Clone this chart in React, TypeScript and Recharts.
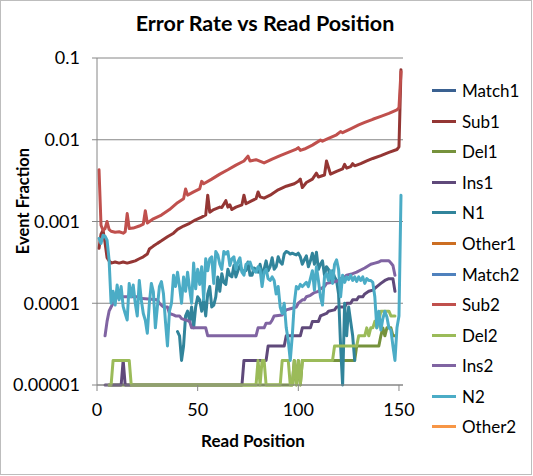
import React from 'react';
import { LineChart, Line, XAxis, YAxis, CartesianGrid } from 'recharts';

// Read positions shown on the x axis
const X_TICKS = [0, 50, 100, 150];
// Log-scale y ticks and how they are printed
const Y_TICKS = [0.00001, 0.0001, 0.001, 0.01, 0.1];
const Y_TICK_LABELS = ['0.00001', '0.0001', '0.001', '0.01', '0.1'];

// [read position, event fraction]
const SUB1: [number, number][] = [
  [1, 0.00047], [2, 0.0007], [3, 0.00078], [4, 0.00055], [5, 0.00036], [6, 0.00033], [7, 0.00031],
  [9, 0.00032], [11, 0.00031], [13, 0.00032], [15, 0.00031], [17, 0.00032], [19, 0.00033], [21, 0.00035],
  [23, 0.00037], [25, 0.0004], [26, 0.00046], [28, 0.0005], [30, 0.00054], [32, 0.00058], [35, 0.00065],
  [38, 0.00072], [40, 0.0008], [43, 0.00088], [46, 0.00095], [49, 0.00105], [52, 0.00113], [54, 0.0012],
  [55, 0.0021], [56, 0.0013], [58, 0.0014], [61, 0.0015], [62, 0.00148], [64, 0.0018], [65, 0.0015],
  [66, 0.0016], [67, 0.0014], [69, 0.0015], [72, 0.0016], [73, 0.0021], [74, 0.00165], [77, 0.0018],
  [79, 0.0019], [80, 0.0023], [81, 0.002], [83, 0.00193], [86, 0.0021], [90, 0.00244], [94, 0.0027],
  [98, 0.0029], [100, 0.0031], [101, 0.0033], [102, 0.0026], [104, 0.003], [107, 0.0033], [109, 0.0039],
  [110, 0.0035], [113, 0.0037], [114, 0.0055], [116, 0.0038], [119, 0.0041], [122, 0.0044], [123, 0.005],
  [124, 0.0045], [126, 0.0047], [127, 0.0051], [128, 0.0048], [131, 0.0051], [134, 0.0055], [137, 0.0059],
  [141, 0.0064], [145, 0.007], [149, 0.0076], [150, 0.0082], [151, 0.072],
];

const SUB2: [number, number][] = [
  [1, 0.0043], [2, 0.0009], [3, 0.00078], [4, 0.00082], [5, 0.001], [6, 0.0008], [7, 0.00076],
  [9, 0.00074], [11, 0.00075], [13, 0.00072], [14, 0.00075], [15, 0.00125], [16, 0.00082], [18, 0.00083],
  [21, 0.00088], [23, 0.00093], [24, 0.00135], [25, 0.00096], [28, 0.00108], [32, 0.0012], [36, 0.0014],
  [40, 0.0017], [43, 0.0019], [44, 0.0025], [45, 0.0021], [48, 0.0023], [51, 0.0025], [52, 0.0031],
  [53, 0.0029], [57, 0.0033], [61, 0.0038], [65, 0.0043], [69, 0.0049], [73, 0.0055], [75, 0.0063],
  [76, 0.0055], [79, 0.0057], [83, 0.0052], [87, 0.0058], [91, 0.0064], [95, 0.007], [99, 0.0077],
  [100, 0.008], [101, 0.0074], [103, 0.0077], [107, 0.0086], [111, 0.0099], [112, 0.0096], [115, 0.0104],
  [119, 0.0115], [121, 0.0126], [122, 0.0122], [126, 0.0136], [130, 0.0152], [133, 0.0163], [137, 0.0178],
  [141, 0.0193], [145, 0.021], [149, 0.0232], [150, 0.0245], [151, 0.068],
];

const DEL1: [number, number][] = [
  [6, 0.00001], [97, 0.00001], [98, 0.00002], [99, 0.00001], [100, 0.00002], [101, 0.00001],
  [102, 0.00002], [128, 0.00002], [129, 0.00003], [140, 0.00003], [141, 0.00004], [142, 0.00005],
  [143, 0.00004], [144, 0.00005], [146, 0.00005], [147, 0.00004], [148, 0.00004],
];

const DEL2: [number, number][] = [
  [6, 0.00001], [7, 0.00001], [8, 0.00002], [16, 0.00002], [17, 0.00001], [79, 0.00001], [80, 0.00002],
  [81, 0.00001], [82, 0.00002], [83, 0.00002], [84, 0.00001], [91, 0.00001], [92, 0.00002], [95, 0.00002],
  [96, 0.00001], [97, 0.00001], [98, 0.00002], [99, 0.00001], [100, 0.00002], [101, 0.00001],
  [102, 0.00002], [117, 0.00002], [118, 0.00003], [129, 0.00003], [130, 0.00004], [133, 0.00004],
  [134, 0.00005], [135, 0.00004], [136, 0.00005], [137, 0.00005], [138, 0.00006], [139, 0.00005],
  [140, 0.00006], [141, 0.00008], [145, 0.00008], [146, 0.00007], [148, 0.00007],
];

const INS1: [number, number][] = [
  [4, 0.00001], [12, 0.00001], [13, 0.00002], [14, 0.00001], [72, 0.00001], [73, 0.00002], [84, 0.00002],
  [85, 0.00003], [93, 0.00003], [94, 0.00004], [101, 0.00004], [102, 0.00005], [106, 0.00005],
  [107, 0.00006], [110, 0.00006], [111, 0.00007], [114, 0.000075], [115, 0.00008], [118, 0.000083],
  [119, 0.00009], [123, 0.00009], [124, 0.0001], [126, 0.0001], [127, 0.00011], [129, 0.00011],
  [130, 0.00012], [132, 0.00012], [133, 0.00013], [135, 0.00014], [137, 0.000145], [139, 0.00016],
  [141, 0.000175], [143, 0.00019], [145, 0.0002], [147, 0.0002], [148, 0.00014],
];

const INS2: [number, number][] = [
  [4, 0.00004], [5, 0.00006], [6, 0.00008], [7, 0.00009], [8, 0.0001], [9, 0.00011], [10, 0.00012],
  [20, 0.00012], [21, 0.000115], [30, 0.00011], [31, 0.0001], [32, 0.000095], [33, 0.00009], [35, 0.00009],
  [36, 0.000075], [38, 0.000072], [39, 0.00007], [41, 0.00007], [42, 0.000065], [46, 0.00006],
  [47, 0.00005], [54, 0.00005], [55, 0.00004], [79, 0.00004], [80, 0.00005], [83, 0.00005],
  [84, 0.000057], [86, 0.000057], [87, 0.000062], [88, 0.00007], [92, 0.000072], [93, 0.000078],
  [94, 0.000083], [97, 0.000087], [99, 0.00009], [100, 0.0001], [102, 0.00011], [103, 0.00011],
  [104, 0.00012], [106, 0.000125], [108, 0.000135], [110, 0.00014], [111, 0.00015], [113, 0.00016],
  [114, 0.000175], [117, 0.00018], [118, 0.000183], [120, 0.00019], [121, 0.0002], [123, 0.00021],
  [124, 0.00022], [127, 0.00023], [129, 0.00024], [131, 0.000255], [133, 0.00027], [134, 0.00028],
  [136, 0.0003], [138, 0.00031], [140, 0.00032], [141, 0.00033], [145, 0.00033], [146, 0.00031],
  [147, 0.00029], [148, 0.00022],
];

// N1 is reported from read position 40 to 128
const N1_START = 40;
const N1_VALUES = [
  0.000045, 0.00004, 0.00002, 0.00003, 0.00007, 0.00008, 0.00006, 0.00009, 0.00005, 0.00009,
  0.00012, 0.00011, 0.00008, 0.00011, 0.00007, 0.00013, 0.00016, 0.00009, 0.000095, 0.00012,
  0.00021, 0.00014, 0.00023, 0.00018, 0.00017, 0.00026, 0.00022, 0.00021, 0.00029, 0.00021,
  0.00025, 0.00029, 0.00025, 0.00025, 0.00025, 0.00032, 0.00022, 0.00022, 0.00027, 0.00026,
  0.00024, 0.0003, 0.00023, 0.00026, 0.00033, 0.00025, 0.00028, 0.00036, 0.00026, 0.00028,
  0.00037, 0.00032, 0.0003, 0.0004, 0.00043, 0.00042, 0.0004, 0.00041, 0.0004, 0.00039,
  0.00041, 0.00037, 0.0003, 0.00034, 0.00038, 0.00028, 0.00033, 0.00041, 0.0003, 0.00042,
  0.00026, 0.0003, 0.00033, 0.00022, 0.00028, 0.00026, 0.00019, 0.00025, 0.00021, 0.00019,
  0.00013, 0.00003, 0.00001, 0.0001, 0.00004, 0.00009, 0.00006, 0.00004, 0.00002,
];

// N2 covers every read position from 1 to 151
const N2_START = 1;
const N2_VALUES = [
  0.00062, 0.00054, 0.00068, 0.00066, 0.00059, 0.00034, 0.0001, 0.00014, 0.000095, 0.000167,
  0.00011, 0.00016, 0.000091, 0.000075, 0.0000624, 0.000175, 0.00012, 0.000167, 0.0001, 0.00007,
  0.00019, 0.00011, 0.000075, 0.000062, 0.000043, 0.0001, 0.000175, 0.000138, 0.00005, 0.000091,
  0.00016, 0.000184, 0.000132, 0.00006, 0.00003, 0.00008, 0.0001, 0.00022, 0.00016, 0.00024,
  0.00016, 0.0001, 0.00021, 0.00014, 0.00024, 0.00015, 0.0001, 0.00031, 0.00015, 0.00026,
  0.00017, 0.00028, 0.00011, 0.00035, 0.00025, 0.00035, 0.00037, 0.000175, 0.00043, 0.00039,
  0.0003, 0.00026, 0.00043, 0.0004, 0.00043, 0.00029, 0.00035, 0.00037, 0.00026, 0.00032,
  0.00036, 0.00024, 0.00022, 0.0003, 0.00031, 0.00032, 0.00027, 0.00025, 0.00024, 0.00028,
  0.00026, 0.00016, 0.00024, 0.00026, 0.0002, 0.00019, 0.00021, 0.00019, 0.00013, 0.00016,
  0.00009, 0.000075, 0.0001, 0.00005, 0.000035, 0.00002, 0.00004, 0.0001, 0.00016, 0.00015,
  0.00017, 0.00016, 0.00017, 0.00018, 0.00016, 0.0002, 0.00025, 0.000145, 0.00028, 0.00019,
  0.00012, 0.000095, 0.00021, 0.00023, 0.00019, 0.00025, 0.000175, 0.0003, 0.00034, 0.00026,
  0.00012, 0.00022, 0.00018, 0.00021, 0.000195, 0.00022, 0.00019, 0.00021, 0.000185, 0.00021,
  0.00019, 0.00021, 0.000175, 0.0002, 0.00019, 0.00019, 0.00018, 0.00012, 0.00005, 0.00008,
  0.000047, 0.000065, 0.00008, 0.000068, 0.00005, 0.000047, 0.00003, 0.00002, 0.00005, 0.00007, 0.0021,
];

// Match and Other stay outside the 0.00001-0.1 log range, so nothing of them is drawn
const MATCH1: [number, number][] = [];
const OTHER1: [number, number][] = [];
const MATCH2: [number, number][] = [];
const OTHER2: [number, number][] = [];

const toPoints = (pairs: [number, number][]) => pairs.map(([x, y]) => ({ x, y }));
const fromStart = (start: number, values: number[]) => values.map((y, i) => ({ x: start + i, y }));

const SERIES = [
  { name: 'Match1', color: '#3A6191', data: toPoints(MATCH1) },
  { name: 'Sub1', color: '#943634', data: toPoints(SUB1) },
  { name: 'Del1', color: '#76923C', data: toPoints(DEL1) },
  { name: 'Ins1', color: '#5F497A', data: toPoints(INS1) },
  { name: 'N1', color: '#31849B', data: fromStart(N1_START, N1_VALUES) },
  { name: 'Other1', color: '#CC6E22', data: toPoints(OTHER1) },
  { name: 'Match2', color: '#4F81BD', data: toPoints(MATCH2) },
  { name: 'Sub2', color: '#C0504D', data: toPoints(SUB2) },
  { name: 'Del2', color: '#9BBB59', data: toPoints(DEL2) },
  { name: 'Ins2', color: '#8064A2', data: toPoints(INS2) },
  { name: 'N2', color: '#4BACC6', data: fromStart(N2_START, N2_VALUES) },
  { name: 'Other2', color: '#F79646', data: toPoints(OTHER2) },
];

const FONT = 'Lato, "Open Sans", sans-serif';
const AXIS_GREY = '#868686';

export default function App() {
  return (
    <div
      style={{
        position: 'absolute',
        left: 0,
        top: 0,
        width: 533,
        height: 476,
        background: '#fff',
        fontFamily: FONT,
        color: '#000',
      }}
    >
      {/* chart area border */}
      <div
        style={{
          position: 'absolute',
          left: 0,
          top: 0,
          width: 530,
          height: 473,
          border: '1px solid #BDBDBD',
        }}
      />

      <div
        style={{
          position: 'absolute',
          left: 265,
          top: 23,
          transform: 'translate(-50%, -50%)',
          whiteSpace: 'nowrap',
          fontSize: 21.5,
          fontWeight: 700,
        }}
      >
        Error Rate vs Read Position
      </div>

      <LineChart
        width={533}
        height={476}
        margin={{ top: 58, right: 130, bottom: 61, left: 37 }}
        style={{ position: 'absolute', left: 0, top: 0 }}
      >
        <CartesianGrid vertical={false} stroke={AXIS_GREY} strokeWidth={1} />
        <XAxis
          type="number"
          dataKey="x"
          domain={[0, 152]}
          ticks={X_TICKS}
          height={30}
          stroke={AXIS_GREY}
          tickSize={6}
          tickMargin={12}
          tick={{ fill: '#000', fontSize: 18, fontFamily: FONT }}
        />
        <YAxis
          type="number"
          scale="log"
          domain={[0.00001, 0.1]}
          ticks={Y_TICKS}
          width={60}
          stroke={AXIS_GREY}
          tickSize={5}
          tickMargin={12}
          tickFormatter={(v: number) => Y_TICK_LABELS[Y_TICKS.indexOf(v)] ?? String(v)}
          tick={{ fill: '#000', fontSize: 18, fontFamily: FONT }}
        />
        {SERIES.map((s) => (
          <Line
            key={s.name}
            data={s.data}
            dataKey="y"
            name={s.name}
            type="linear"
            stroke={s.color}
            strokeWidth={3}
            strokeLinejoin="round"
            strokeLinecap="round"
            dot={false}
            activeDot={false}
            isAnimationActive={false}
          />
        ))}
      </LineChart>

      {/* y axis title */}
      <div
        style={{
          position: 'absolute',
          left: 23,
          top: 201,
          transform: 'translate(-50%, -50%) rotate(-90deg)',
          whiteSpace: 'nowrap',
          fontSize: 16.5,
          fontWeight: 700,
        }}
      >
        Event Fraction
      </div>

      {/* x axis title */}
      <div
        style={{
          position: 'absolute',
          left: 253,
          top: 440,
          transform: 'translate(-50%, -50%)',
          whiteSpace: 'nowrap',
          fontSize: 17,
          fontWeight: 700,
        }}
      >
        Read Position
      </div>

      {/* legend */}
      {SERIES.map((s, i) => (
        <div
          key={s.name}
          style={{
            position: 'absolute',
            left: 432,
            top: 90.7 + 30.55 * i - 11,
            height: 22,
            display: 'flex',
            alignItems: 'center',
            fontSize: 17,
            whiteSpace: 'nowrap',
          }}
        >
          <span style={{ display: 'inline-block', width: 24, height: 3, background: s.color, marginRight: 6 }} />
          {s.name}
        </div>
      ))}
    </div>
  );
}
